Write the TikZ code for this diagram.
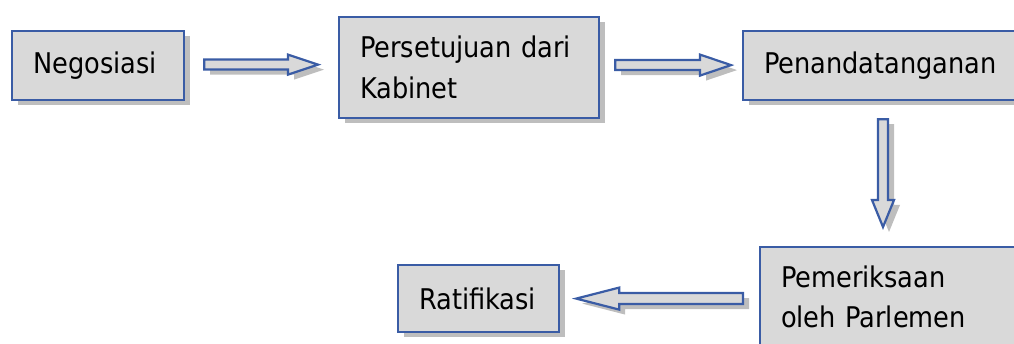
\documentclass[tikz,border=0pt]{standalone}
\usepackage{fontspec}
\newfontfamily\lbl{DejaVu Sans Condensed}
\usetikzlibrary{calc,shadows}
\definecolor{bordc}{RGB}{58,92,165}
\definecolor{fillc}{RGB}{217,217,217}
\definecolor{shadc}{RGB}{190,190,190}
\newcommand\fatarrow[5]{%
  \coordinate (fa-h) at ($(#2)!#5pt!(#1)$);
  \coordinate (fa-as) at ($(#1)+(6,-5)$);
  \coordinate (fa-bs) at ($(#2)+(6,-5)$);
  \coordinate (fa-hs) at ($(fa-h)+(6,-5)$);
  \fill[shadc] ($(fa-as)!#3pt!90:(fa-bs)$) -- ($(fa-hs)!#3pt!90:(fa-bs)$) -- ($(fa-hs)!#4pt!90:(fa-bs)$) -- (fa-bs) -- ($(fa-hs)!#4pt!-90:(fa-bs)$) -- ($(fa-hs)!#3pt!-90:(fa-bs)$) -- ($(fa-as)!#3pt!-90:(fa-bs)$) -- cycle;
  \draw[arr] ($(#1)!#3pt!90:(#2)$) -- ($(fa-h)!#3pt!90:(#2)$) -- ($(fa-h)!#4pt!90:(#2)$) -- (#2) -- ($(fa-h)!#4pt!-90:(#2)$) -- ($(fa-h)!#3pt!-90:(#2)$) -- ($(#1)!#3pt!-90:(#2)$) -- cycle;
}
\begin{document}
\begin{tikzpicture}[x=1pt,y=1pt,
  box/.style={draw=bordc, fill=fillc, line width=2.2pt, anchor=north west,
    inner xsep=21pt, inner ysep=0pt, align=left,
    font=\lbl\fontsize{28.5}{40.5}\selectfont,
    drop shadow={shadow xshift=6pt, shadow yshift=-5pt, fill=shadc, opacity=1}},
  arr/.style={draw=bordc, fill=fillc, line width=2.2pt, line join=miter}]
\useasboundingbox (0,0) rectangle (1014,-344);
\clip (0,0) rectangle (1014,-344);
\node[box, minimum height=69pt, text width=130pt] (neg) at (11,-30) {Negosiasi};
\node[box, minimum height=101pt, text width=218pt] (kab) at (338,-16) {Persetujuan dari\\Kabinet};
\node[box, minimum height=69pt, text width=258pt] (pen) at (742,-30) {Penandatanganan};
\node[box, minimum height=100pt, text width=258pt] (pem) at (759,-246) {Pemeriksaan\\oleh Parlemen};
\node[box, minimum height=67pt, text width=119pt] (rat) at (397,-264) {Ratifikasi};
% arrow 1
\coordinate (a1s) at ($(neg.east)+(19,1)$);
\coordinate (a1x) at ($(kab.west)+(-20,0)$);
\coordinate (a1t) at (a1x |- a1s);
\fatarrow{a1s}{a1t}{5}{10}{30}
% arrow 2
\coordinate (a2s) at ($(kab.east)+(15,2.5)$);
\coordinate (a2x) at ($(pen.west)+(-11,0)$);
\coordinate (a2t) at (a2x |- a2s);
\fatarrow{a2s}{a2t}{5}{10.5}{31}
% arrow 3
\coordinate (a3s) at ($(pen.south west)+(141,-18)$);
\coordinate (a3y) at ($(pem.north)+(0,19)$);
\coordinate (a3t) at (a3s |- a3y);
\fatarrow{a3s}{a3t}{5}{11}{27}
% arrow 4
\coordinate (a4s) at ($(pem.west)+(-16,-1.5)$);
\coordinate (a4x) at ($(rat.east)+(16,0)$);
\coordinate (a4t) at (a4x |- a4s);
\fatarrow{a4s}{a4t}{5.5}{11}{43}
\end{tikzpicture}
\end{document}
